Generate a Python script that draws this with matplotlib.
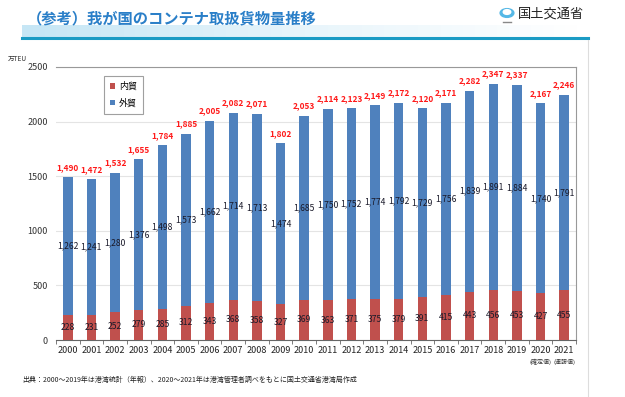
import matplotlib
matplotlib.use("Agg")
import matplotlib.pyplot as plt
import numpy as np
from matplotlib.patches import Circle
from matplotlib.lines import Line2D

plt.rcParams["font.family"] = ["Noto Sans CJK JP", "DejaVu Sans"]

years = ["2000", "2001", "2002", "2003", "2004", "2005", "2006", "2007", "2008", "2009", "2010",
         "2011", "2012", "2013", "2014", "2015", "2016", "2017", "2018", "2019", "2020", "2021"]
domestic = [228, 231, 252, 279, 285, 312, 343, 368, 358, 327, 369,
            363, 371, 375, 379, 391, 415, 443, 456, 453, 427, 455]
foreign = [1262, 1241, 1280, 1376, 1498, 1573, 1662, 1714, 1713, 1474, 1685,
           1750, 1752, 1774, 1792, 1729, 1756, 1839, 1891, 1884, 1740, 1791]
totals = [1490, 1472, 1532, 1655, 1784, 1885, 2005, 2082, 2071, 1802, 2053,
          2114, 2123, 2149, 2172, 2120, 2171, 2282, 2347, 2337, 2167, 2246]
year_notes = {"2020": "(確定値)", "2021": "(速報値)"}

RED = "#c0504d"
BLUE = "#4f81bd"

fig = plt.figure(figsize=(6.25, 3.97), dpi=100)
W, H = 625, 397


def fx(px):
    return px / W


def fy(py):
    return 1 - py / H


# header
fig.text(fx(27), fy(18), "（参考）我が国のコンテナ取扱貨物量推移", color="#2a7fc8",
         fontsize=11, fontweight="bold", va="center", ha="left")
band = np.linspace(0, 1, 50).reshape(1, -1)
bax = fig.add_axes([fx(22), fy(37), fx(588) - fx(22), (37 - 25) / H])
bax.imshow(band, aspect="auto", cmap=matplotlib.colors.LinearSegmentedColormap.from_list(
    "b", ["#c6e6f5", "#e8f5fb", "#ffffff"]), extent=(0, 1, 0, 1))
bax.axis("off")
fig.add_artist(Line2D([fx(22), fx(588)], [fy(38), fy(38)], color="#1b9bc4", lw=2.2))
fig.text(fx(518), fy(14), "国土交通省", fontsize=9.5, va="center", ha="left", color="#222222")
fig.add_artist(Circle((fx(507), fy(13)), 0.011, transform=fig.transFigure, color="#55b8e6"))
fig.add_artist(Circle((fx(507), fy(12)), 0.006, transform=fig.transFigure, color="white"))
fig.add_artist(Line2D([fx(503), fx(511)], [fy(22), fy(22)], color="#888888", lw=1))

# slide page edge
fig.add_artist(Line2D([fx(588), fx(588)], [0, fy(40)], color="#dddddd", lw=0.8))

ax = fig.add_axes([fx(56), fy(340), fx(576) - fx(56), (340 - 67) / H])
x = np.arange(len(years))
bw = 0.4
ax.bar(x, domestic, bw, color=RED, label="内貿", zorder=3)
ax.bar(x, foreign, bw, bottom=domestic, color=BLUE, label="外貿", zorder=3)

for i in range(len(years)):
    ax.text(x[i], domestic[i] / 2, f"{domestic[i]:,}", ha="center", va="center",
            fontsize=6.2, color="#1a1a2a", zorder=4)
    ax.text(x[i], domestic[i] + foreign[i] / 2, f"{foreign[i]:,}", ha="center", va="center",
            fontsize=6.2, color="#1a1a2a", zorder=4)
    ax.annotate(f"{totals[i]:,}", (x[i], totals[i]), xytext=(0, 4), textcoords="offset points",
                ha="center", va="bottom", fontsize=6, fontweight="bold", color="#ff1a1a")

ax.set_xlim(-0.5, len(years) - 0.5)
ax.set_ylim(0, 2500)
ax.set_yticks(np.arange(0, 2501, 500))
ax.tick_params(axis="y", length=0, labelsize=6.5, pad=6, colors="#333333")
ax.yaxis.grid(True, color="#e4e4e4", lw=0.8, zorder=0)
ax.set_xticks(x)
ax.set_xticklabels(years, fontsize=6.5, color="#222222")
ax.tick_params(axis="x", length=0, pad=4)
ax.set_xticks(np.arange(-0.5, len(years), 1), minor=True)
ax.tick_params(axis="x", which="minor", length=3, color="#666666", direction="out")
for sp in ["top", "right"]:
    ax.spines[sp].set_color("#999999")
    ax.spines[sp].set_linewidth(0.8)
ax.spines["left"].set_visible(False)
ax.spines["bottom"].set_color("#666666")
ax.spines["bottom"].set_linewidth(0.8)
ax.set_axisbelow(True)

for yr, note in year_notes.items():
    i = years.index(yr)
    ax.annotate(note, (x[i], 0), xycoords=("data", "axes fraction"), xytext=(0, -16),
                textcoords="offset points", ha="center", va="center", fontsize=4.3, color="#333333")

leg = ax.legend(loc="upper left", bbox_to_anchor=(0.083, 0.985), fontsize=6.5, frameon=True,
                fancybox=False, edgecolor="#888888", handlelength=0.6, handleheight=0.6,
                handletextpad=0.4, labelspacing=0.8, borderpad=0.7)
leg.get_frame().set_linewidth(0.8)

fig.text(fx(8), fy(59), "万TEU", fontsize=4.8, va="center", ha="left", color="#333333")
fig.text(fx(22), fy(380),
         "出典：2000～2019年は港湾統計（年報）、2020～2021年は港湾管理者調べをもとに国土交通省港湾局作成",
         fontsize=5, va="center", ha="left", color="#222222")

fig.savefig("out.png", dpi=100)
